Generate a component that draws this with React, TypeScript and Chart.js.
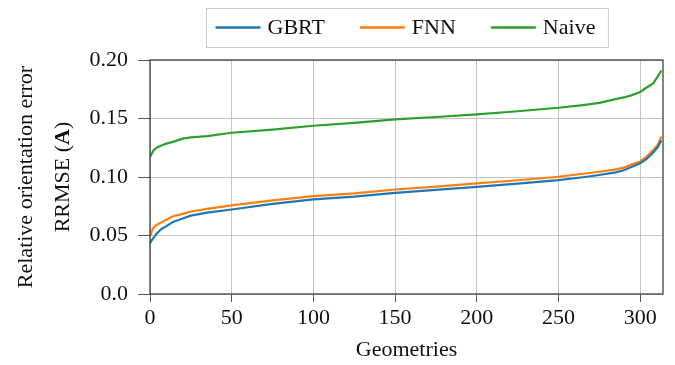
import React, { useEffect, useRef } from "react";
import { Chart, registerables } from "chart.js";

Chart.register(...registerables);

// Geometry index (sorted by error) at which each curve is sampled
const geometryIdx = [0, 2, 4, 7, 10, 14, 20, 25, 35, 50, 75, 100, 125, 150, 175, 200, 225, 250, 265, 275, 285, 290, 295, 300, 304, 308, 311, 313];

const gbrtValues = [0.0435, 0.0478, 0.0515, 0.0556, 0.058, 0.0615, 0.0645, 0.067, 0.0695, 0.0722, 0.077, 0.0808, 0.0832, 0.0864, 0.089, 0.0916, 0.0943, 0.0973, 0.0998, 0.1017, 0.104, 0.1058, 0.1088, 0.1118, 0.1155, 0.121, 0.126, 0.1315];
const fnnValues = [0.0496, 0.0565, 0.059, 0.0612, 0.0635, 0.0665, 0.0685, 0.0705, 0.0728, 0.0758, 0.08, 0.0836, 0.086, 0.0893, 0.0918, 0.0945, 0.0972, 0.1002, 0.1028, 0.1045, 0.1065, 0.108, 0.1108, 0.1133, 0.1175, 0.123, 0.128, 0.1345];
const naiveValues = [0.117, 0.1225, 0.125, 0.127, 0.1285, 0.13, 0.1328, 0.1338, 0.135, 0.1378, 0.1405, 0.1438, 0.1462, 0.1492, 0.1513, 0.1536, 0.1562, 0.1592, 0.1615, 0.1633, 0.1665, 0.168, 0.17, 0.1727, 0.1765, 0.18, 0.1865, 0.191];

const seriesNames = ["GBRT", "FNN", "Naive"];
const seriesColors = ["#1f77b4", "#ff7f0e", "#2ca02c"];

const xTicks = [0, 50, 100, 150, 200, 250, 300];
const yTicks = [0, 0.05, 0.1, 0.15, 0.2];
const yTickLabels = ["0.0", "0.05", "0.10", "0.15", "0.20"];

const xTitle = "Geometries";
const yTitleLine1 = "Relative orientation error";
const yTitleLine2 = ["RRMSE (", "A", ")"];

const FONT = "'Liberation Serif', 'Times New Roman', serif";
const FS = 22;

const toPoints = (vals: number[]) => vals.map((v, i) => ({ x: geometryIdx[i], y: v }));

// Frame, axis titles and the boxed legend above the plot
const decorPlugin = {
  id: "decor",
  afterDraw(chart: any) {
    const { ctx, chartArea: a } = chart;
    ctx.save();
    // frame around the plot
    ctx.strokeStyle = "#333";
    ctx.lineWidth = 1.2;
    ctx.strokeRect(a.left, a.top, a.right - a.left, a.bottom - a.top);

    ctx.fillStyle = "#111";
    ctx.font = `${FS}px ${FONT}`;
    ctx.textBaseline = "middle";
    ctx.textAlign = "center";
    // x title
    ctx.fillText(xTitle, (a.left + a.right) / 2, 350);

    // y title (two lines, rotated)
    const cy = (a.top + a.bottom) / 2;
    ctx.save();
    ctx.translate(26, cy);
    ctx.rotate(-Math.PI / 2);
    ctx.fillText(yTitleLine1, 0, 0);
    ctx.restore();

    ctx.save();
    ctx.translate(63, cy);
    ctx.rotate(-Math.PI / 2);
    ctx.textAlign = "left";
    const normal = `${FS}px ${FONT}`;
    const bold = `bold ${FS}px ${FONT}`;
    const fonts = [normal, bold, normal];
    let total = 0;
    const widths = yTitleLine2.map((s, i) => {
      ctx.font = fonts[i];
      const w = ctx.measureText(s).width;
      total += w;
      return w;
    });
    let x = -total / 2;
    yTitleLine2.forEach((s, i) => {
      ctx.font = fonts[i];
      ctx.fillText(s, x, 0);
      x += widths[i];
    });
    ctx.restore();

    // legend
    ctx.font = `${FS}px ${FONT}`;
    const padL = 9, padR = 13, lineLen = 45, gap = 7, itemGap = 35;
    const textW = seriesNames.map((n) => ctx.measureText(n).width);
    let boxW = padL + padR;
    textW.forEach((w, i) => {
      boxW += lineLen + gap + w + (i < textW.length - 1 ? itemGap : 0);
    });
    const boxTop = 8, boxH = 39;
    const boxLeft = Math.round((a.left + a.right) / 2 - boxW / 2) + 0.5;
    ctx.strokeStyle = "#cccccc";
    ctx.lineWidth = 1;
    ctx.strokeRect(boxLeft, boxTop + 0.5, boxW, boxH);
    const ly = boxTop + boxH / 2;
    let lx = boxLeft + padL;
    ctx.textAlign = "left";
    seriesNames.forEach((n, i) => {
      ctx.strokeStyle = seriesColors[i];
      ctx.lineWidth = 2.4;
      ctx.beginPath();
      ctx.moveTo(lx, ly);
      ctx.lineTo(lx + lineLen, ly);
      ctx.stroke();
      lx += lineLen + gap;
      ctx.fillStyle = "#111";
      ctx.fillText(n, lx, ly + 1);
      lx += textW[i] + itemGap;
    });
    ctx.restore();
  },
};

export default function App() {
  const ref = useRef<HTMLCanvasElement>(null);

  useEffect(() => {
    if (!ref.current) return;
    const series = [gbrtValues, fnnValues, naiveValues];
    const chart = new Chart(ref.current, {
      type: "line",
      data: {
        datasets: series.map((vals, i) => ({
          label: seriesNames[i],
          data: toPoints(vals),
          borderColor: seriesColors[i],
          backgroundColor: seriesColors[i],
          borderWidth: 2.2,
          pointRadius: 0,
          tension: 0,
          fill: false,
        })),
      },
      options: {
        animation: false,
        responsive: false,
        devicePixelRatio: 1,
        layout: { padding: { top: 60, right: 12, left: 0, bottom: 0 } },
        plugins: {
          legend: { display: false },
          tooltip: { enabled: false },
        },
        scales: {
          x: {
            type: "linear",
            min: 0,
            max: 314,
            afterBuildTicks: (s: any) => {
              s.ticks = xTicks.map((v) => ({ value: v }));
            },
            afterFit: (s: any) => {
              s.height = 71;
            },
            ticks: {
              color: "#111",
              font: { family: FONT, size: FS },
              padding: 3,
              maxRotation: 0,
            },
            grid: { color: "#c4c4c4", lineWidth: 1, tickLength: 8, tickColor: "#555" },
            border: { display: false },
          },
          y: {
            min: 0,
            max: 0.2,
            afterBuildTicks: (s: any) => {
              s.ticks = yTicks.map((v) => ({ value: v }));
            },
            afterFit: (s: any) => {
              s.width = 150;
            },
            ticks: {
              color: "#111",
              font: { family: FONT, size: FS },
              padding: 10,
              callback: (v: any) => {
                const idx = yTicks.findIndex((t) => Math.abs(t - Number(v)) < 1e-9);
                return idx >= 0 ? yTickLabels[idx] : "";
              },
            },
            grid: { color: "#c4c4c4", lineWidth: 1, tickLength: 12, tickColor: "#555" },
            border: { display: false },
          },
        },
      },
      plugins: [decorPlugin],
    });
    return () => chart.destroy();
  }, []);

  return (
    <div style={{ position: "absolute", left: 0, top: 0, width: 675, height: 365, background: "#fff" }}>
      <canvas ref={ref} width={675} height={365} />
    </div>
  );
}
